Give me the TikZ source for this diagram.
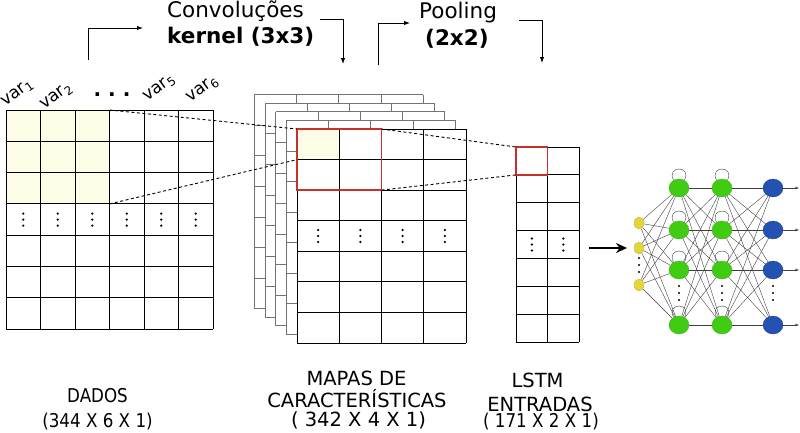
\documentclass[tikz,border=0pt]{standalone}
\usepackage{fontspec}
\setmainfont{DejaVu Sans}
\newfontfamily\narrowfont[FakeStretch=0.88]{DejaVu Sans}
\usetikzlibrary{arrows.meta,shapes.geometric}
\definecolor{hilite}{HTML}{FDFCE6}
\definecolor{kred}{HTML}{C8302A}
\definecolor{inyel}{HTML}{E2D63C}
\definecolor{hidgrn}{HTML}{40CC12}
\definecolor{outblu}{HTML}{2452B2}

\begin{document}
\begin{tikzpicture}[x=1pt,y=-1pt,>={Latex[length=6pt,width=4.5pt]},
  lbl/.style={font=\fontsize{19.5}{22}\selectfont,anchor=base,inner sep=0pt},
  nlbl/.style={lbl,font=\fontsize{19}{22}\narrowfont},
  ttl/.style={font=\fontsize{21.5}{24}\selectfont,anchor=base west,inner sep=0pt},
  varlbl/.style={font=\fontsize{17}{20}\selectfont,rotate=36,anchor=base west,inner sep=0pt},
  conn/.style={dash pattern=on 3pt off 2.5pt,line width=.9pt},
  cell/.style={line width=.9pt},
  kbox/.style={draw=kred,line width=1.3pt},
  inp/.style={ellipse,inner sep=0pt,minimum width=10pt,minimum height=12pt,fill=inyel,draw=inyel!85!black,line width=.3pt},
  hid/.style={ellipse,inner sep=0pt,minimum width=20pt,minimum height=18pt,fill=hidgrn,draw=hidgrn!85!black,line width=.3pt},
  outn/.style={hid,fill=outblu,draw=outblu!70!black},
  syn/.style={draw=black!75,line width=.4pt}]
  \useasboundingbox (0,0) rectangle (800,432);

  \fill[hilite] (6,110) rectangle (109.5,203.9);
  \foreach \i in {0,...,6} \draw[cell] (6+34.5*\i,110) -- (6+34.5*\i,329);
  \foreach \j in {0,...,7} \draw[cell] (6,110+31.29*\j) -- (213,110+31.29*\j);
  \foreach \i in {1,...,6} \foreach \k in {-6,0,6}
    \fill (6+34.5*\i-17.25,219.6+\k) circle (1.25pt);
  \node[varlbl] (v1) at (5,107) {var\textsubscript{1}};
  \node[varlbl] (v2) at (44,110) {var\textsubscript{2}};
  \node[varlbl] (v5) at (147,102) {var\textsubscript{5}};
  \node[varlbl] (v6) at (190,103) {var\textsubscript{6}};
  \node[font=\fontsize{20}{20}\bfseries,anchor=base,inner sep=0pt] (vd) at (112,96) {.\hspace{7pt}.\hspace{7pt}.};

  \foreach \k in {4,3,2,1} {
    \begin{scope}[shift={(297-10.7*\k,129-8.6*\k)}]
      \fill[white] (0,0) rectangle (169,214);
      \foreach \i in {0,...,4} \draw[black!55,line width=.7pt] (42.25*\i,0) -- (42.25*\i,214);
      \foreach \j in {0,...,7} \draw[black!55,line width=.7pt] (0,30.57*\j) -- (169,30.57*\j);
    \end{scope}}
  \fill[white] (297,129) rectangle (466,343);
  \fill[hilite] (297,129) rectangle ++(42.25,30.57);
  \foreach \i in {0,...,4} \draw[cell] (297+42.25*\i,129) -- (297+42.25*\i,343);
  \foreach \j in {0,...,7} \draw[cell] (297,129+30.57*\j) -- (466,129+30.57*\j);
  \foreach \i in {0,...,3} \foreach \k in {-6,0,6}
    \fill (318.1+42.25*\i,236+\k) circle (1.25pt);
  \draw[kbox] (297,129) -- (381.5,129) -- (381.5,190.14) -- (297,190.14) -- cycle;

  \foreach \i in {0,...,2} \draw[cell] (516+31.5*\i,147) -- (516+31.5*\i,342);
  \foreach \j in {0,...,7} \draw[cell] (516,147+27.86*\j) -- (579,147+27.86*\j);
  \foreach \i in {0,1} \foreach \k in {-6,0,6}
    \fill (531.75+31.5*\i,244.5+\k) circle (1.25pt);
  \draw[kbox] (516,147) -- (547.5,147) -- (547.5,174.86) -- (516,174.86) -- cycle;

  \coordinate (k1) at (109.5,110);
  \coordinate (k2) at (109.5,203.9);
  \coordinate (f1) at (297,129);
  \coordinate (f2) at (297,159.6);
  \coordinate (p1) at (381.5,129);
  \coordinate (p2) at (381.5,190.1);
  \coordinate (l1) at (516,147);
  \coordinate (l2) at (516,174.9);
  \draw[conn] (k1) -- (f1);
  \draw[conn] (k2) -- (f2);
  \draw[conn] (p1) -- (l1);
  \draw[conn] (p2) -- (l2);

  \node[ttl] (conv) at (167,17.5) {Convoluções};
  \node[ttl,font=\fontsize{21.5}{24}\bfseries] (ksize) at (167,43) {kernel (3x3)};
  \node[ttl] (pool) at (419,18) {Pooling};
  \node[ttl,font=\fontsize{21.5}{24}\bfseries] (psize) at (425,45) {(2x2)};
  \coordinate (a1) at (88,60);  \coordinate (a2) at (143,28);
  \coordinate (b1) at (320,19); \coordinate (b2) at (343,64);
  \coordinate (c1) at (378,65); \coordinate (c2) at (410,23);
  \coordinate (d1) at (519,20); \coordinate (d2) at (542,63);
  \draw[->,line width=1pt] (a1) |- (a2);
  \draw[->,line width=1pt] (b1) -| (b2);
  \draw[->,line width=1pt] (c1) |- (c2);
  \draw[->,line width=1pt] (d1) -| (d2);

  \coordinate (ar1) at (589,248);
  \coordinate (ar2) at (627,248);
  \draw[line width=2pt,-{Stealth[length=11pt,width=10pt]}] (ar1) -- (ar2);

  \foreach \n/\y in {1/223,2/248,3/285} \node[inp] (x\n) at (639,\y) {};
  \foreach \n/\y in {1/188,2/230,3/270,4/325} {
    \node[hid] (g\n) at (679,\y) {};
    \node[hid] (h\n) at (722,\y) {};
    \node[outn] (o\n) at (773,\y) {};
    \coordinate (e\n) at (799,\y);}
  \foreach \a in {1,2,3} \foreach \b in {1,...,4} \draw[syn] (x\a) -- (g\b);
  \foreach \a in {1,...,4} \foreach \b in {1,...,4} {
    \draw[syn] (g\a) -- (h\b);
    \draw[syn] (h\a) -- (o\b);}
  \foreach \n in {1,...,4} {
    \draw[syn] (g\n.125) .. controls +(-8,-15) and +(8,-15) .. (g\n.55);
    \draw[syn] (h\n.125) .. controls +(-8,-15) and +(8,-15) .. (h\n.55);
    \draw[syn,-{Latex[length=3.5pt,width=3pt]}] (o\n) -- (e\n);}
  \foreach \k in {-7,0,7} {
    \fill (639,265+\k) circle (1.2pt);
    \foreach \x in {679,722,773} \fill (\x,293+\k) circle (1.2pt);}

  \node[lbl,font=\fontsize{19}{22}\narrowfont] (dados) at (97.5,402) {DADOS};
  \node[nlbl] (ddim) at (97.5,427) {(344 X 6 X 1)};
  \node[lbl] (mapas) at (356.5,385) {MAPAS DE};
  \node[lbl] (carac) at (357,407) {CARACTERÍSTICAS};
  \node[lbl] (mdim) at (358.5,426) {( 342 X 4 X 1)};
  \node[lbl] (lstm) at (537.5,387) {LSTM};
  \node[lbl] (entr) at (540,411) {ENTRADAS};
  \node[nlbl] (ldim) at (541,427) {( 171 X 2 X 1)};
\end{tikzpicture}
\end{document}
